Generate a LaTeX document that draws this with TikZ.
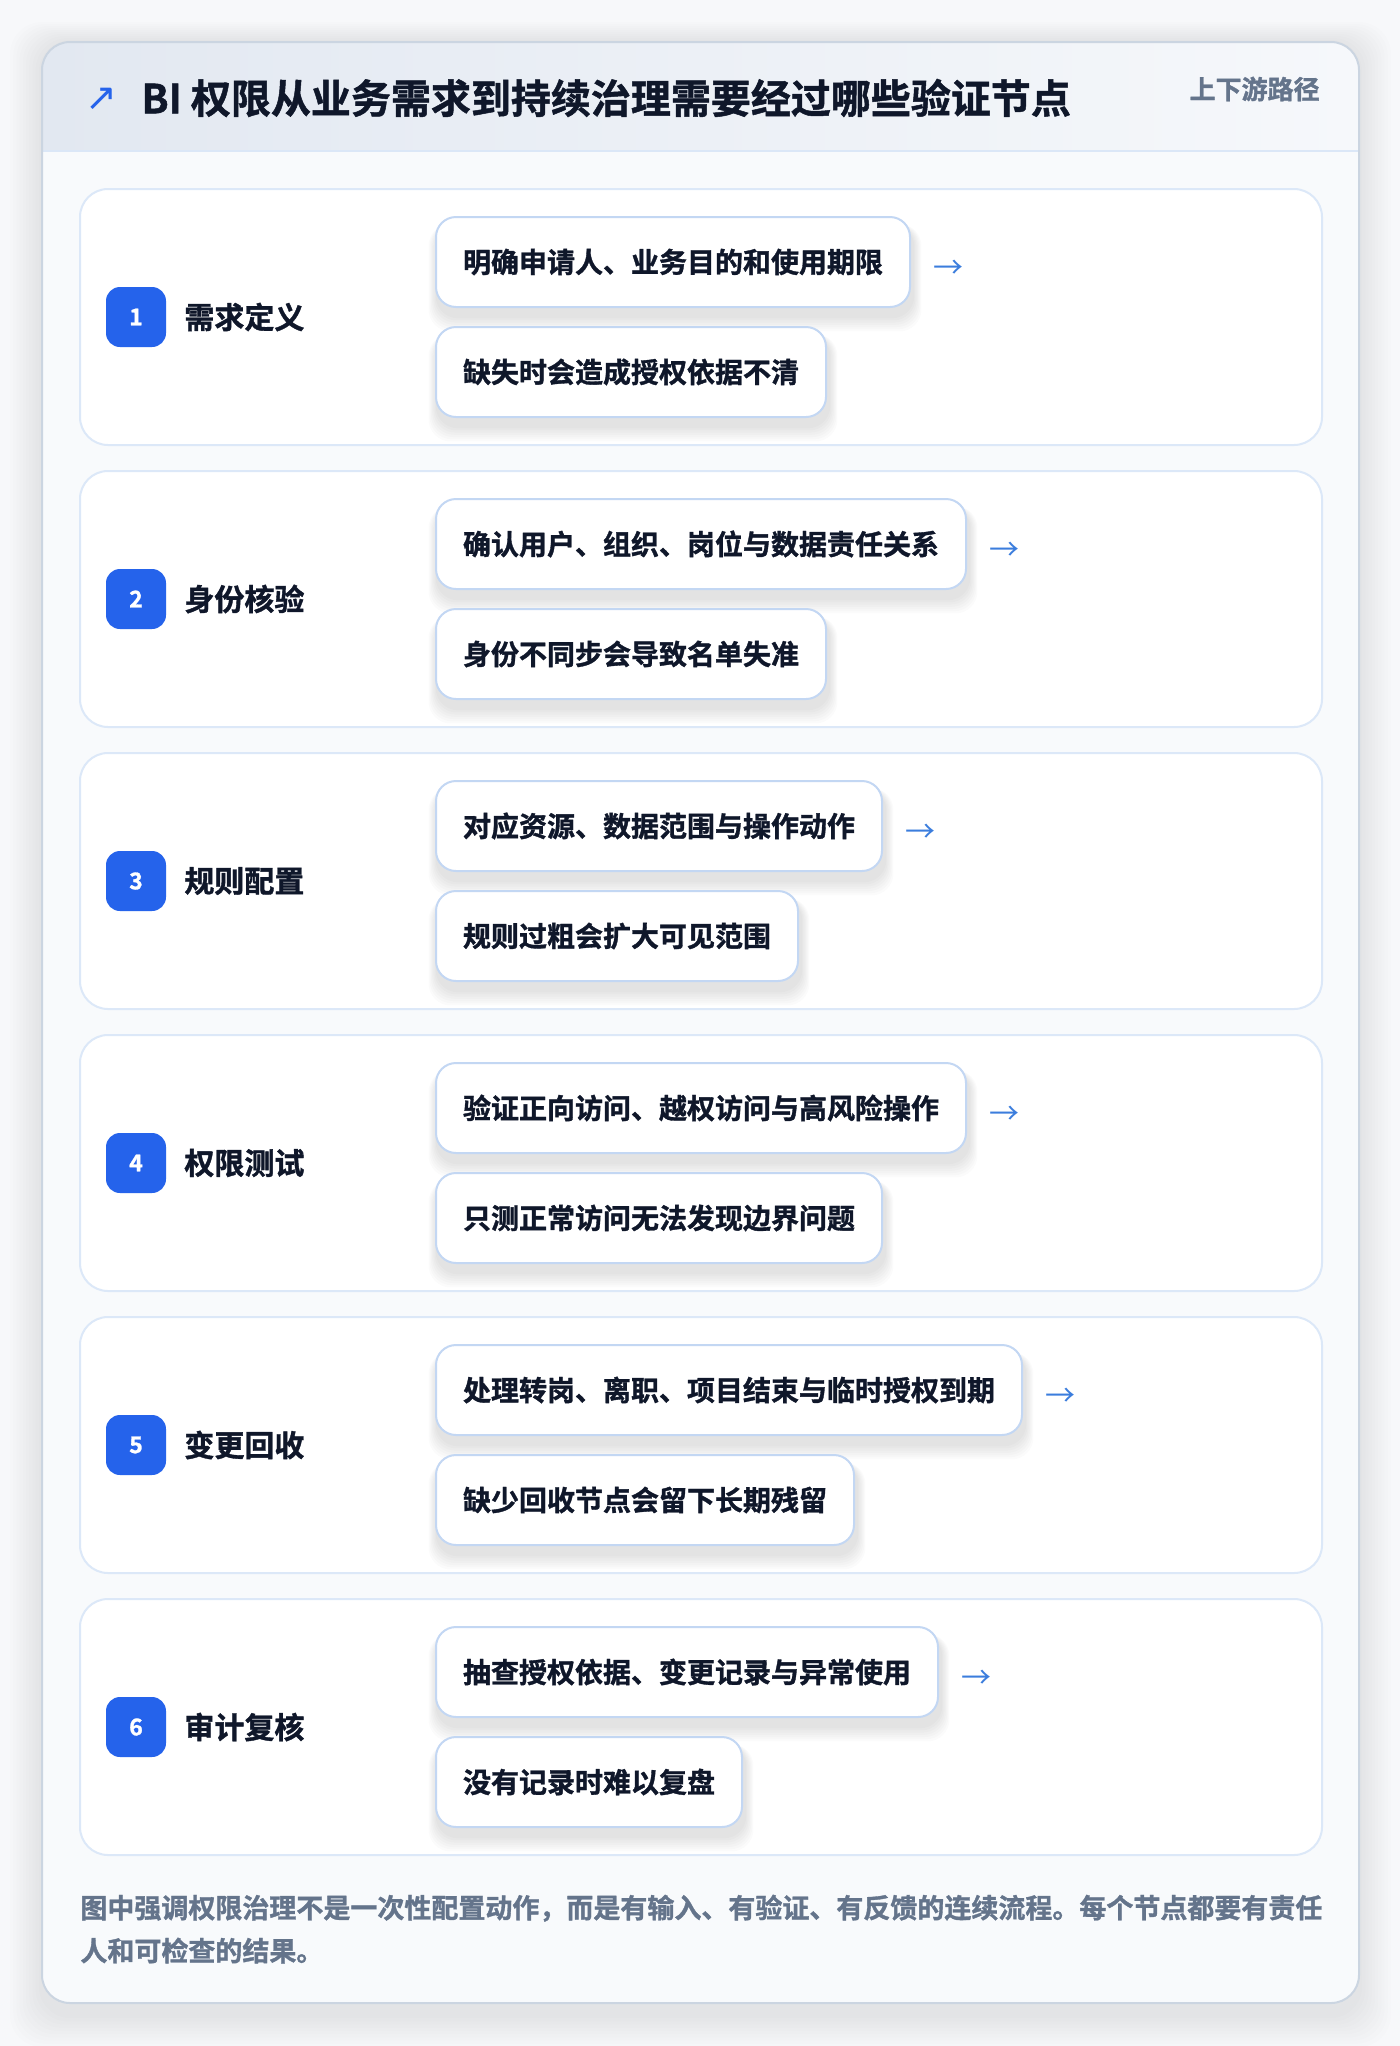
\documentclass[tikz,border=0pt]{standalone}
\usepackage{fontspec}
\setmainfont{Noto Sans CJK SC}[BoldFont={* Bold}]
\newfontfamily\heavyfont{Noto Sans CJK SC}[UprightFont={* Bold}, FakeBold=1.2]
\newfontfamily\symfont{DejaVu Sans}
\definecolor{pagebg}{HTML}{F7F8FA}
\definecolor{cardbg}{HTML}{F8FAFC}
\definecolor{cardborder}{HTML}{CBD5E1}
\definecolor{hdrL}{HTML}{E2E8F1}
\definecolor{hdrR}{HTML}{F6F8FB}
\definecolor{hdrline}{HTML}{DBE7F7}
\definecolor{titlecol}{HTML}{0F172A}
\definecolor{mutedcol}{HTML}{64748B}
\definecolor{panelborder}{HTML}{DCE8F8}
\definecolor{boxborder}{HTML}{C3D7F3}
\definecolor{badgecol}{HTML}{2563EB}
\definecolor{arrowcol}{HTML}{3B7DDD}
\pgfdeclarelayer{back}
\pgfdeclarelayer{shad}
\pgfsetlayers{back,shad,main}
\tikzset{
  panel/.style={draw=panelborder, line width=1pt, fill=white, rounded corners=14pt,
    minimum width=621pt, minimum height=128pt, inner sep=0pt},
  badge/.style={fill=badgecol, rounded corners=7pt, minimum width=30pt, minimum height=30pt,
    inner sep=0pt, text=white, font=\heavyfont\fontsize{11.5}{13}\selectfont},
  steplabel/.style={anchor=west, inner sep=0pt, text=titlecol, font=\heavyfont\fontsize{15}{18}\selectfont},
  infobox/.style={anchor=west, draw=boxborder, line width=1pt, fill=white, rounded corners=10pt,
    minimum height=45pt, inner xsep=13.5pt, inner ysep=0pt, text=titlecol,
    font=\heavyfont\fontsize{14}{17}\selectfont},
  flowarrow/.style={anchor=west, inner sep=0pt, text=arrowcol, font=\fontsize{15}{18}\selectfont},
  shadlayer/.style={fill=black, opacity=0.016, rounded corners=11pt},
}
\newcommand\boxshadow[1]{%
  \begin{pgfonlayer}{shad}
  \foreach \k in {1,...,7}{
    \fill[shadlayer] ([xshift=-\k*0.6pt+1pt,yshift=-4pt-\k*1.1pt]#1.south west)
      rectangle ([xshift=\k*0.6pt+1pt,yshift=-4pt]#1.north east);
  }
  \end{pgfonlayer}}
\begin{document}
\begin{tikzpicture}[x=0.5pt,y=-0.5pt]
\begin{pgfonlayer}{back}
\fill[pagebg] (0,0) rectangle (1400,2046);
\end{pgfonlayer}
\useasboundingbox (0,0) rectangle (1400,2046);
% card shadow and card
\begin{pgfonlayer}{back}
\foreach \k in {1,...,10}{
  \fill[black, opacity=0.008, rounded corners=16pt]
    ([xshift=-\k*1.6pt, yshift=\k*1.0pt]42,42) rectangle ([xshift=\k*1.6pt, yshift=-6pt-\k*1.6pt]1359,2003);
}
\fill[cardbg, rounded corners=14pt] (42,42) rectangle (1359,2003);
\begin{scope}
  \clip[rounded corners=14pt] (42,42) rectangle (1359,2003);
  \shade[left color=hdrL, right color=hdrR] (42,42) rectangle (1359,151);
\end{scope}
\draw[hdrline, line width=1.2pt] (42,151) -- (1359,151);
\draw[cardborder, line width=1pt, rounded corners=14pt] (42,42) rectangle (1359,2003);
\end{pgfonlayer}
% header
\node[anchor=center, inner sep=0pt, text=badgecol, font=\symfont\fontsize{19}{22}\selectfont] (icon) at (101,99) {↗};
\node[anchor=west, inner sep=0pt, text=titlecol, font=\heavyfont\fontsize{20}{24}\selectfont] (title) at (141,98) {BI 权限从业务需求到持续治理需要经过哪些验证节点};
\node[anchor=east, inner sep=0pt, text=mutedcol, font=\heavyfont\fontsize{13}{16}\selectfont] (tag) at (1320,89) {上下游路径};
% rows
\foreach \i/\lab/\ta/\tb in {
  1/需求定义/明确申请人、业务目的和使用期限/缺失时会造成授权依据不清,
  2/身份核验/确认用户、组织、岗位与数据责任关系/身份不同步会导致名单失准,
  3/规则配置/对应资源、数据范围与操作动作/规则过粗会扩大可见范围,
  4/权限测试/验证正向访问、越权访问与高风险操作/只测正常访问无法发现边界问题,
  5/变更回收/处理转岗、离职、项目结束与临时授权到期/缺少回收节点会留下长期残留,
  6/审计复核/抽查授权依据、变更记录与异常使用/没有记录时难以复盘}{
  \pgfmathsetmacro{\cy}{189+282*(\i-1)+128}
  \begin{pgfonlayer}{back}
  \node[panel] (panel\i) at (701,\cy) {};
  \end{pgfonlayer}
  \node[badge] (badge\i) at (136,\cy) {\i};
  \node[steplabel] (label\i) at (184,\cy) {\lab};
  \node[infobox] (top\i) at (435,\cy-55) {\ta};
  \node[infobox] (bot\i) at (435,\cy+55) {\tb};
  \boxshadow{top\i}
  \boxshadow{bot\i}
  \node[flowarrow] (arr\i) at ([xshift=11pt,yshift=-3.5pt]top\i.east) {→};
}
% footer
\node[anchor=west, inner sep=0pt, align=left, text=mutedcol,
  font=\heavyfont\fontsize{13.5}{21.5}\selectfont] (foot) at (80,1929)
  {图中强调权限治理不是一次性配置动作，而是有输入、有验证、有反馈的连续流程。每个节点都要有责任\\人和可检查的结果。};
\end{tikzpicture}
\end{document}
